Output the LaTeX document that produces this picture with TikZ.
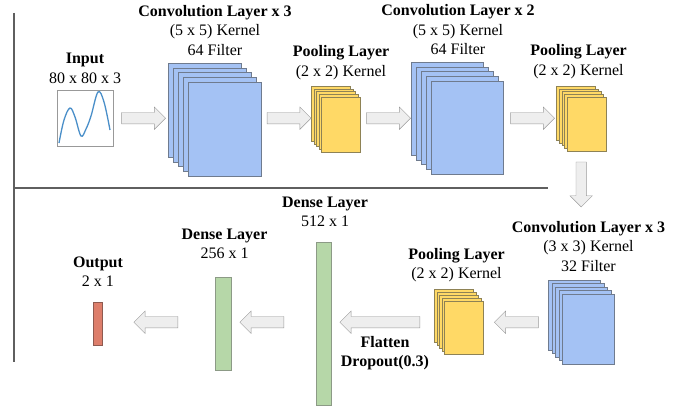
\documentclass[tikz,border=0pt]{standalone}
\usepackage{fontspec}
\setmainfont{Liberation Serif}
\usetikzlibrary{shapes.arrows, positioning}

\definecolor{convblue}{HTML}{A4C2F4}
\definecolor{convedge}{HTML}{6F7B8E}
\definecolor{poolyellow}{HTML}{FFD966}
\definecolor{pooledge}{HTML}{8E8255}
\definecolor{densegreen}{HTML}{B6D7A8}
\definecolor{denseedge}{HTML}{8C9A86}
\definecolor{outred}{HTML}{DD7E6B}
\definecolor{outedge}{HTML}{8E5A50}
\definecolor{arrowfill}{HTML}{EEEEEE}
\definecolor{arrowedge}{HTML}{9A9A9A}
\definecolor{rulegray}{HTML}{5F5F5F}
\definecolor{plotblue}{HTML}{4A8FC9}

% five layers, back to front: name, x, y, dx, dy, width, height, style
\newcommand{\layerstack}[8]{%
  \foreach \i in {0,...,4}
    \node[#8, minimum width=#6, minimum height=#7, anchor=north west]
      (#1-\i) at (#2+#4*\i, #3+#5*\i) {};
}

\begin{document}
\begin{tikzpicture}[x=1pt, y=-1pt]

\tikzset{conv/.style = {draw=convedge, fill=convblue, inner sep=0pt}}
\tikzset{pool/.style = {draw=pooledge, fill=poolyellow, inner sep=0pt}}
\tikzset{dense/.style = {draw=denseedge, fill=densegreen, inner sep=0pt, anchor=north west}}
\tikzset{title/.style = {align=center, font=\fontsize{16}{19.5}\selectfont}}
\tikzset{blockarrow/.style = {single arrow, draw=arrowedge, fill=arrowfill, inner sep=5.5pt,
    minimum height=44pt, minimum width=22pt, single arrow head extend=5.5pt,
    sloped, allow upside down}}

\useasboundingbox (0,0) rectangle (697,406);

% frame lines
\draw[rulegray, line width=2pt] (14,13) -- (14,362);
\draw[rulegray, line width=2pt] (14,188) -- (548,188);

% first row
\node[draw=gray!80, fill=white, minimum width=56pt, minimum height=56pt, anchor=north west, inner sep=0pt] (inbox) at (57,90) {};
\draw[plotblue, line width=1.3pt] plot[smooth, tension=0.6] coordinates
  {(59,143) (64,120) (70,108) (75,117) (81,136) (86,129) (91,116) (98,92) (104,102) (110,130)};
\node[title] (in-lbl) at (85,68.5) {\textbf{Input}\\80 x 80 x 3};

\layerstack{c1}{168}{63}{5}{4.75}{73pt}{94pt}{conv}
\node[title] (c1-lbl) at (215,30.5) {\textbf{Convolution Layer x 3}\\(5 x 5) Kernel\\64 Filter};

\layerstack{p1}{311}{86}{2.5}{2.75}{39pt}{55pt}{pool}
\node[title] (p1-lbl) at (341,62.5) {\textbf{Pooling Layer}\\(2 x 2) Kernel};

\layerstack{c2}{411}{62}{5}{4.75}{72pt}{93pt}{conv}
\node[title] (c2-lbl) at (458,30) {\textbf{Convolution Layer x 2}\\(5 x 5) Kernel\\64 Filter};

\layerstack{p2}{556}{86}{2.75}{2.75}{39pt}{54pt}{pool}
\node[title] (p2-lbl) at (578.5,61.5) {\textbf{Pooling Layer}\\(2 x 2) Kernel};

% second row
\layerstack{c3}{548}{280}{3.5}{3.5}{52pt}{70pt}{conv}
\node[title] (c3-lbl) at (588.5,246.5) {\textbf{Convolution Layer x 3}\\(3 x 3) Kernel\\32 Filter};

\layerstack{p3}{434}{289}{2.5}{3}{39pt}{53pt}{pool}
\node[title] (p3-lbl) at (456.5,265) {\textbf{Pooling Layer}\\(2 x 2) Kernel};

\node[dense, minimum width=15pt, minimum height=163pt] (d512) at (316,242) {};
\node[title] (d512-lbl) at (325,212) {\textbf{Dense Layer}\\512 x 1};
\node[title, font=\fontsize{16}{19.5}\selectfont\bfseries] (flat-lbl) at (385,353) {Flatten\\Dropout(0.3)};

\node[dense, minimum width=16pt, minimum height=93pt] (d256) at (215,277) {};
\node[title] (d256-lbl) at (224.5,244) {\textbf{Dense Layer}\\256 x 1};

\node[draw=outedge, fill=outred, inner sep=0pt, minimum width=9pt, minimum height=43pt, anchor=north west] (out) at (93,302) {};
\node[title] (out-lbl) at (98,271.5) {\textbf{Output}\\2 x 1};

% block arrows
\path (inbox.east) -- node[blockarrow] {} (inbox.east -| c1-0.west);
\path (c1-4.east |- inbox.east) -- node[blockarrow] {} (inbox.east -| p1-0.west);
\path (p1-4.east |- inbox.east) -- node[blockarrow] {} (inbox.east -| c2-0.west);
\path (c2-4.east |- inbox.east) -- node[blockarrow] {} (inbox.east -| p2-0.west);
\path (p2-2.south) -- node[blockarrow, inner sep=5pt, single arrow head extend=6pt, minimum height=45pt] {} (p2-2.south |- c3-lbl.north);
\path (c3-2.west) -- node[blockarrow] {} (c3-2.west -| p3-4.east);
\path (p3-0.west |- c3-2.west) -- node[blockarrow, minimum height=80pt] {} (c3-2.west -| d512.east);
\path (d512.west |- c3-2.west) -- node[blockarrow, pos=0.606] {} (c3-2.west -| d256.east);
\path (d256.west |- c3-2.west) -- node[blockarrow] {} (c3-2.west -| out.east);

\end{tikzpicture}
\end{document}
